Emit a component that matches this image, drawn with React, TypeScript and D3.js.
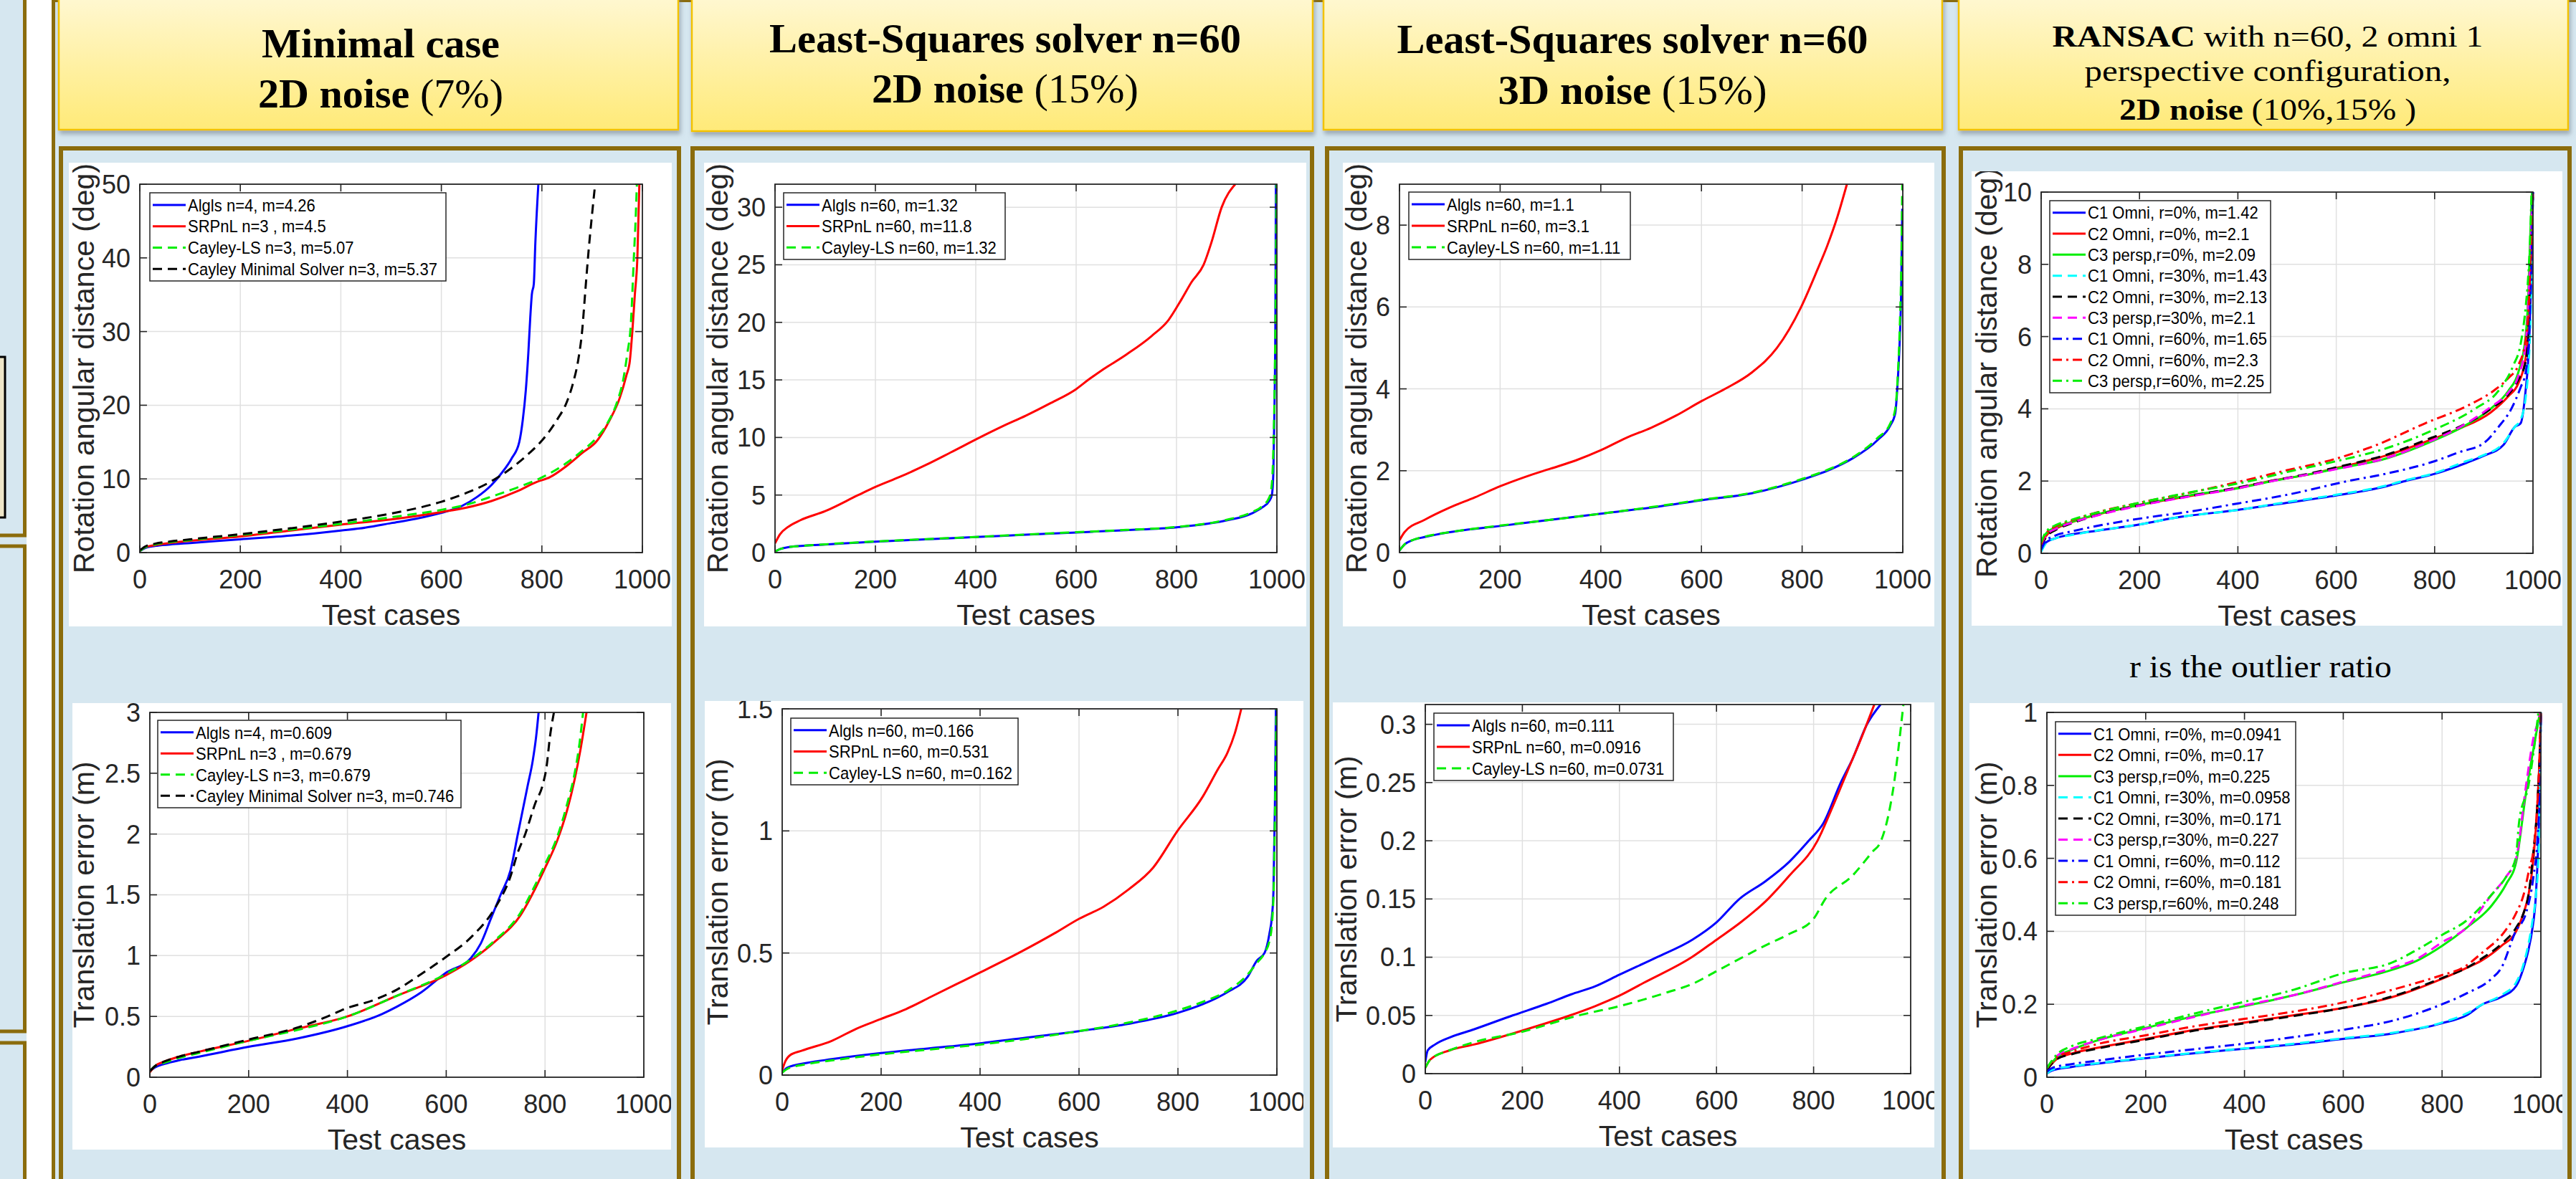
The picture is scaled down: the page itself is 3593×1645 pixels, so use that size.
import React from 'react';
import * as d3 from 'd3';

type Pt = [number, number];

// ---------------- shared axis values ----------------
const xTicks = [0, 200, 400, 600, 800, 1000];
const xTickLabels = ['0', '200', '400', '600', '800', '1000'];

const yTicksC1Rot = [0, 10, 20, 30, 40, 50];
const yLabelsC1Rot = ['0', '10', '20', '30', '40', '50'];
const yTicksC1Tr = [0, 0.5, 1, 1.5, 2, 2.5, 3];
const yLabelsC1Tr = ['0', '0.5', '1', '1.5', '2', '2.5', '3'];
const yTicksC2Rot = [0, 5, 10, 15, 20, 25, 30];
const yLabelsC2Rot = ['0', '5', '10', '15', '20', '25', '30'];
const yTicksC2Tr = [0, 0.5, 1, 1.5];
const yLabelsC2Tr = ['0', '0.5', '1', '1.5'];
const yTicksC3Rot = [0, 2, 4, 6, 8];
const yLabelsC3Rot = ['0', '2', '4', '6', '8'];
const yTicksC3Tr = [0, 0.05, 0.1, 0.15, 0.2, 0.25, 0.3];
const yLabelsC3Tr = ['0', '0.05', '0.1', '0.15', '0.2', '0.25', '0.3'];
const yTicksC4Rot = [0, 2, 4, 6, 8, 10];
const yLabelsC4Rot = ['0', '2', '4', '6', '8', '10'];
const yTicksC4Tr = [0, 0.2, 0.4, 0.6, 0.8, 1];
const yLabelsC4Tr = ['0', '0.2', '0.4', '0.6', '0.8', '1'];

// ---------------- legend labels ----------------
const legC1Rot = ['Algls n=4, m=4.26', 'SRPnL n=3 , m=4.5', 'Cayley-LS n=3, m=5.07', 'Cayley Minimal Solver n=3, m=5.37'];
const legC1Tr = ['Algls n=4, m=0.609', 'SRPnL n=3 , m=0.679', 'Cayley-LS n=3, m=0.679', 'Cayley Minimal Solver n=3, m=0.746'];
const legC2Rot = ['Algls n=60, m=1.32', 'SRPnL n=60, m=11.8', 'Cayley-LS n=60, m=1.32'];
const legC2Tr = ['Algls n=60, m=0.166', 'SRPnL n=60, m=0.531', 'Cayley-LS n=60, m=0.162'];
const legC3Rot = ['Algls n=60, m=1.1', 'SRPnL n=60, m=3.1', 'Cayley-LS n=60, m=1.11'];
const legC3Tr = ['Algls n=60, m=0.111', 'SRPnL n=60, m=0.0916', 'Cayley-LS n=60, m=0.0731'];
const legC4Rot = ['C1 Omni, r=0%, m=1.42', 'C2 Omni, r=0%, m=2.1', 'C3 persp,r=0%, m=2.09', 'C1 Omni, r=30%, m=1.43', 'C2 Omni, r=30%, m=2.13', 'C3 persp,r=30%, m=2.1', 'C1 Omni, r=60%, m=1.65', 'C2 Omni, r=60%, m=2.3', 'C3 persp,r=60%, m=2.25'];
const legC4Tr = ['C1 Omni, r=0%, m=0.0941', 'C2 Omni, r=0%, m=0.17', 'C3 persp,r=0%, m=0.225', 'C1 Omni, r=30%, m=0.0958', 'C2 Omni, r=30%, m=0.171', 'C3 persp,r=30%, m=0.227', 'C1 Omni, r=60%, m=0.112', 'C2 Omni, r=60%, m=0.181', 'C3 persp,r=60%, m=0.248'];

// ---------------- Column 1 : minimal case ----------------
const c1RotAlgls: Pt[] = [[0,0.2],[10,0.6],[30,0.9],[60,1.1],[100,1.3],[200,1.8],[300,2.3],[400,3.0],[450,3.4],[500,4.0],[550,4.6],[600,5.4],[640,6.3],[670,7.5],[700,9.2],[720,10.8],[740,12.8],[755,15],[762,18],[768,22],[773,27],[777,32],[780,35],[784,36.5],[787,42],[793,50]];
const c1RotSRPnL: Pt[] = [[0,0.2],[10,0.7],[30,1.0],[60,1.3],[100,1.6],[200,2.2],[300,3.0],[400,3.8],[500,4.5],[600,5.5],[650,6.1],[700,7.0],[750,8.3],[790,9.6],[815,10.2],[850,11.8],[880,13.5],[910,15.2],[935,18],[955,21],[968,24],[975,26],[980,30],[985,35],[990,40],[994,50]];
const c1RotCayleyLS: Pt[] = [[0,0.2],[10,0.7],[30,1.1],[60,1.4],[100,1.7],[200,2.4],[300,3.1],[400,3.9],[500,4.8],[600,5.8],[650,6.5],[700,7.6],[750,8.8],[800,10.2],[850,12.2],[880,13.8],[905,15.3],[930,17.5],[950,20.5],[962,23.5],[970,27],[977,31],[983,40],[987,46],[989,50]];
const c1RotCayleyMin: Pt[] = [[0,0.3],[10,0.8],[30,1.2],[60,1.5],[100,1.8],[200,2.5],[300,3.3],[400,4.2],[500,5.3],[600,6.9],[650,8.1],[700,9.7],[740,11.5],[775,13.5],[800,15.2],[830,18],[850,20.5],[862,23],[872,26],[880,30],[887,36],[893,41],[900,46],[906,50]];

const c1TrAlgls: Pt[] = [[0,0.05],[10,0.08],[30,0.11],[60,0.14],[100,0.17],[200,0.25],[300,0.32],[400,0.42],[470,0.52],[500,0.58],[550,0.7],[600,0.86],[650,0.98],[670,1.1],[690,1.3],[710,1.5],[730,1.7],[745,2.0],[755,2.2],[765,2.4],[775,2.6],[782,2.8],[787,3.0]];
const c1TrSRPnL: Pt[] = [[0,0.04],[10,0.09],[30,0.13],[60,0.17],[100,0.21],[200,0.3],[300,0.4],[400,0.5],[500,0.67],[600,0.84],[650,0.96],[700,1.12],[750,1.33],[780,1.55],[800,1.72],[825,1.95],[845,2.2],[860,2.45],[872,2.7],[884,3.0]];
const c1TrCayleyLS: Pt[] = [[0,0.05],[10,0.09],[30,0.12],[60,0.16],[100,0.2],[200,0.3],[300,0.39],[400,0.5],[500,0.67],[600,0.85],[650,0.97],[700,1.13],[750,1.35],[780,1.58],[800,1.75],[825,1.98],[845,2.25],[860,2.5],[870,2.75],[877,3.0]];
const c1TrCayleyMin: Pt[] = [[0,0.05],[10,0.09],[30,0.13],[60,0.17],[100,0.21],[200,0.31],[300,0.41],[360,0.5],[400,0.57],[450,0.63],[500,0.72],[550,0.85],[600,0.99],[650,1.15],[700,1.4],[730,1.65],[745,1.85],[760,2.0],[780,2.25],[795,2.4],[803,2.55],[810,2.8],[818,3.0]];

// ---------------- Column 2 : LS n=60, 2D noise ----------------
const c2RotAlgls: Pt[] = [[0,0.1],[10,0.3],[30,0.5],[60,0.6],[100,0.7],[200,0.95],[300,1.15],[400,1.35],[500,1.55],[600,1.75],[700,1.95],[800,2.2],[900,2.8],[950,3.4],[970,3.9],[985,4.5],[990,5.0],[993,7],[995,12],[997,20],[998,32]];
const c2RotSRPnL: Pt[] = [[0,0.8],[10,1.6],[25,2.2],[50,2.8],[100,3.6],[166,5.0],[200,5.7],[250,6.6],[300,7.6],[350,8.7],[408,10],[450,10.9],[500,11.9],[550,13],[600,14.2],[624,15],[650,15.8],[700,17.2],[750,18.8],[784,20.2],[810,22],[830,23.5],[854,25],[870,27],[890,30],[917,32]];
const c2RotCayleyLS: Pt[] = [[0,0.1],[10,0.3],[30,0.5],[60,0.6],[100,0.72],[200,0.97],[300,1.17],[400,1.36],[500,1.57],[600,1.77],[700,1.97],[800,2.22],[900,2.85],[950,3.5],[970,4.0],[985,4.8],[990,6],[993,9],[996,16],[998,25],[999,32]];

const c2TrAlgls: Pt[] = [[0,0.01],[10,0.03],[50,0.05],[100,0.065],[200,0.09],[300,0.11],[400,0.13],[500,0.155],[600,0.18],[700,0.21],[800,0.255],[850,0.29],[900,0.34],[940,0.4],[960,0.47],[975,0.5],[985,0.58],[990,0.65],[993,0.75],[996,1.1],[998,1.5]];
const c2TrSRPnL: Pt[] = [[0,0.02],[5,0.05],[15,0.08],[40,0.1],[100,0.14],[150,0.19],[200,0.23],[250,0.27],[300,0.32],[350,0.37],[400,0.42],[478,0.5],[550,0.58],[600,0.64],[650,0.69],[700,0.76],[750,0.85],[799,1.0],[850,1.14],[880,1.25],[900,1.32],[915,1.4],[928,1.5]];
const c2TrCayleyLS: Pt[] = [[0,0.01],[10,0.025],[50,0.045],[100,0.06],[200,0.085],[300,0.105],[400,0.125],[500,0.15],[600,0.18],[700,0.215],[800,0.265],[850,0.3],[900,0.345],[940,0.41],[960,0.46],[975,0.5],[985,0.55],[990,0.62],[994,0.8],[997,1.2],[999,1.5]];

// ---------------- Column 3 : LS n=60, 3D noise ----------------
const c3RotAlgls: Pt[] = [[0,0.05],[10,0.2],[25,0.3],[50,0.38],[100,0.5],[200,0.65],[300,0.8],[400,0.95],[500,1.1],[600,1.28],[700,1.45],[800,1.78],[850,2.0],[900,2.3],[950,2.75],[975,3.1],[985,3.4],[990,4.2],[994,5.2],[997,6.5],[999,8.4]];
const c3RotSRPnL: Pt[] = [[0,0.3],[10,0.5],[50,0.8],[100,1.1],[150,1.35],[200,1.62],[250,1.85],[300,2.05],[350,2.25],[400,2.5],[450,2.8],[500,3.05],[550,3.35],[600,3.7],[647,4.0],[700,4.4],[750,5.0],[798,6.0],[830,6.9],[850,7.5],[870,8.2],[889,9]];
const c3RotCayleyLS: Pt[] = [[0,0.05],[10,0.2],[25,0.3],[50,0.39],[100,0.5],[200,0.66],[300,0.8],[400,0.95],[500,1.11],[600,1.29],[700,1.46],[800,1.8],[850,2.02],[900,2.32],[950,2.8],[975,3.15],[985,3.5],[990,4.3],[994,5.5],[997,7],[999,9]];

const c3TrAlgls: Pt[] = [[0,0.01],[5,0.02],[20,0.025],[50,0.031],[100,0.038],[180,0.05],[250,0.06],[300,0.068],[350,0.075],[400,0.085],[477,0.1],[550,0.115],[600,0.13],[647,0.15],[700,0.165],[750,0.182],[790,0.2],[820,0.215],[856,0.25],[880,0.27],[910,0.3],[938,0.317]];
const c3TrSRPnL: Pt[] = [[0,0.005],[10,0.012],[50,0.02],[100,0.025],[200,0.037],[298,0.05],[350,0.058],[400,0.067],[450,0.078],[549,0.1],[600,0.115],[650,0.13],[706,0.15],[750,0.17],[808,0.2],[840,0.23],[870,0.26],[900,0.29],[925,0.317]];
const c3TrCayleyLS: Pt[] = [[0,0.005],[10,0.012],[50,0.02],[100,0.027],[200,0.036],[316,0.05],[400,0.058],[500,0.07],[550,0.077],[600,0.088],[654,0.1],[700,0.11],[750,0.12],[800,0.133],[824,0.15],[880,0.17],[920,0.19],[939,0.2],[958,0.23],[966,0.25],[975,0.28],[985,0.317]];

// ---------------- Column 4 : RANSAC ----------------
const c4RotC1r0: Pt[] = [[0,0.05],[10,0.3],[30,0.42],[60,0.52],[100,0.6],[200,0.8],[280,1.0],[400,1.2],[500,1.4],[600,1.6],[700,1.85],[740,2.0],[800,2.2],[864,2.5],[900,2.7],[940,3.0],[963,3.5],[975,3.6],[985,4.5],[990,5.3],[995,7],[1000,10]];
const c4RotC2r0: Pt[] = [[0,0.2],[10,0.48],[30,0.68],[60,0.85],[100,1.02],[200,1.34],[300,1.58],[400,1.81],[466,2.0],[550,2.2],[600,2.36],[700,2.7],[794,3.15],[850,3.45],[914,3.9],[950,4.35],[970,4.7],[985,5.4],[990,6.2],[995,8],[1000,10]];
const c4RotC3r0: Pt[] = [[0,0.25],[10,0.55],[30,0.72],[60,0.86],[100,1.03],[200,1.34],[300,1.6],[400,1.8],[470,2.0],[550,2.2],[600,2.34],[700,2.62],[794,3.1],[850,3.45],[914,4.0],[950,4.5],[970,5.0],[985,6.0],[990,7],[995,9],[998,10]];
const c4RotC1r30: Pt[] = [[0,0.05],[10,0.28],[30,0.42],[60,0.5],[100,0.6],[200,0.8],[280,1.0],[400,1.2],[500,1.42],[600,1.62],[700,1.87],[740,2.02],[800,2.22],[864,2.55],[900,2.72],[940,3.05],[963,3.5],[975,3.7],[985,4.3],[990,5],[995,6.5],[1000,10]];
const c4RotC2r30: Pt[] = [[0,0.2],[10,0.45],[30,0.65],[60,0.82],[100,1.0],[200,1.33],[300,1.58],[400,1.82],[466,2.0],[550,2.22],[600,2.38],[700,2.72],[794,3.2],[850,3.5],[914,4.0],[950,4.4],[970,4.8],[985,5.3],[990,6],[995,8],[1000,10]];
const c4RotC3r30: Pt[] = [[0,0.25],[10,0.5],[30,0.68],[60,0.84],[100,1.0],[200,1.32],[300,1.57],[400,1.8],[470,2.0],[550,2.2],[600,2.33],[700,2.63],[794,3.12],[850,3.48],[914,4.05],[950,4.45],[970,4.9],[985,5.8],[990,6.8],[995,8.5],[999,10]];
const c4RotC1r60: Pt[] = [[0,0.1],[10,0.35],[30,0.5],[60,0.6],[100,0.72],[220,1.0],[300,1.15],[400,1.38],[500,1.62],[624,2.0],[700,2.2],[800,2.55],[850,2.8],[900,3.05],[930,3.5],[956,4.0],[975,4.6],[985,5.0],[992,6],[997,8],[1000,10]];
const c4RotC2r60: Pt[] = [[0,0.25],[10,0.55],[30,0.75],[60,0.9],[100,1.08],[200,1.4],[300,1.67],[408,2.0],[500,2.3],[600,2.62],[682,3.0],[781,3.6],[869,4.1],[920,4.5],[950,4.85],[970,5.2],[985,5.9],[992,7],[997,9],[1000,10]];
const c4RotC3r60: Pt[] = [[0,0.3],[10,0.6],[30,0.78],[60,0.92],[100,1.08],[200,1.4],[300,1.68],[424,2.0],[500,2.25],[600,2.55],[700,2.9],[795,3.4],[882,4.0],[930,4.5],[960,5.2],[975,5.8],[985,6.8],[990,7.6],[995,9],[997,10]];

const c4TrC1r0: Pt[] = [[0,0.01],[10,0.018],[50,0.028],[100,0.037],[200,0.052],[300,0.066],[400,0.078],[500,0.09],[600,0.105],[700,0.12],[800,0.148],[850,0.17],[882,0.2],[920,0.22],[950,0.25],[965,0.3],[975,0.35],[982,0.4],[990,0.5],[995,0.65],[998,0.8],[1000,1.0]];
const c4TrC2r0: Pt[] = [[0,0.02],[20,0.05],[50,0.065],[100,0.08],[200,0.105],[300,0.13],[400,0.15],[500,0.17],[600,0.19],[700,0.22],[800,0.27],[850,0.3],[880,0.32],[920,0.36],[950,0.4],[965,0.45],[975,0.5],[985,0.6],[993,0.75],[998,0.9],[1000,1.0]];
const c4TrC3r0: Pt[] = [[0,0.02],[20,0.055],[50,0.075],[100,0.1],[200,0.135],[300,0.168],[400,0.195],[500,0.225],[600,0.26],[700,0.295],[750,0.32],[800,0.36],[850,0.41],[900,0.47],[930,0.53],[950,0.59],[970,0.78],[985,0.9],[993,0.96],[998,1.0]];
const c4TrC1r30: Pt[] = [[0,0.01],[10,0.02],[50,0.03],[100,0.038],[200,0.053],[300,0.067],[400,0.079],[500,0.092],[600,0.107],[700,0.122],[800,0.15],[850,0.175],[882,0.2],[920,0.225],[950,0.26],[965,0.31],[982,0.42],[990,0.5],[995,0.6],[998,0.8],[1000,1.0]];
const c4TrC2r30: Pt[] = [[0,0.02],[20,0.05],[50,0.063],[100,0.078],[200,0.103],[300,0.128],[400,0.148],[500,0.168],[600,0.19],[700,0.222],[800,0.272],[850,0.3],[880,0.325],[920,0.365],[950,0.41],[965,0.45],[975,0.5],[985,0.62],[993,0.75],[998,0.9],[1000,1.0]];
const c4TrC3r30: Pt[] = [[0,0.025],[20,0.058],[50,0.077],[100,0.1],[200,0.133],[300,0.166],[400,0.197],[500,0.225],[600,0.262],[700,0.3],[750,0.325],[800,0.37],[850,0.41],[900,0.5],[930,0.55],[950,0.6],[970,0.8],[985,0.93],[993,0.97],[998,1.0]];
const c4TrC1r60: Pt[] = [[0,0.015],[10,0.025],[50,0.036],[100,0.045],[200,0.062],[300,0.077],[400,0.092],[500,0.11],[600,0.13],[700,0.155],[800,0.2],[850,0.23],[900,0.27],[920,0.3],[949,0.4],[970,0.45],[985,0.55],[993,0.65],[998,0.8],[1000,1.0]];
const c4TrC2r60: Pt[] = [[0,0.025],[20,0.055],[50,0.07],[100,0.09],[200,0.115],[300,0.14],[400,0.16],[500,0.18],[600,0.205],[700,0.24],[800,0.28],[842,0.3],[880,0.34],[927,0.4],[950,0.45],[965,0.5],[978,0.58],[985,0.62],[993,0.75],[998,0.9],[1000,1.0]];
const c4TrC3r60: Pt[] = [[0,0.025],[20,0.062],[50,0.085],[100,0.105],[200,0.14],[300,0.175],[400,0.207],[500,0.24],[600,0.285],[700,0.315],[750,0.35],[800,0.39],[850,0.43],[900,0.5],[930,0.55],[949,0.6],[956,0.7],[975,0.8],[988,0.92],[995,1.0]];

// ---------------- styles ----------------
const BLUE = '#0000ff', RED = '#ff0000', GREEN = '#00ee00', BLACK = '#000000', CYAN = '#00ffff', MAGENTA = '#ff00ff';
const SOLID = '', DASH = '13,8', DASHDOT = '13,6,3,6';
const BG = '#d6e7f0';
const GOLD = '#8b6c0c';
const AX = '#262626';
const SANS = '"Liberation Sans", Arial, Helvetica, sans-serif';
const SERIF = '"Liberation Serif", "Times New Roman", serif';

interface Series { data: Pt[]; label: string; color: string; dash: string }
interface Panel {
  id: string;
  fig: { x: number; y: number; w: number; h: number };
  axes: { l: number; t: number; r: number; b: number };
  yMax: number;
  yTicks: number[];
  yLabels: string[];
  yTitle: string;
  yTitleOff: number;
  legend: { dx: number; dy: number; w: number; h: number };
  series: Series[];
}

const four = (d: Pt[][], labels: string[]): Series[] => [
  { data: d[0], label: labels[0], color: BLUE, dash: SOLID },
  { data: d[1], label: labels[1], color: RED, dash: SOLID },
  { data: d[2], label: labels[2], color: GREEN, dash: DASH },
  ...(d[3] ? [{ data: d[3], label: labels[3], color: BLACK, dash: DASH }] : []),
];

const nine = (d: Pt[][], labels: string[]): Series[] => {
  const cols = [BLUE, RED, GREEN, CYAN, BLACK, MAGENTA, BLUE, RED, GREEN];
  const dashes = [SOLID, SOLID, SOLID, DASH, DASH, DASH, DASHDOT, DASHDOT, DASHDOT];
  return d.map((dd, i) => ({ data: dd, label: labels[i], color: cols[i], dash: dashes[i] }));
};

const ROT = 'Rotation angular distance (deg)';
const TR = 'Translation error (m)';

const panels: Panel[] = [
  { id: 'p1a', fig: { x: 96, y: 227, w: 841, h: 647 }, axes: { l: 195, t: 257, r: 896, b: 771 }, yMax: 50, yTicks: yTicksC1Rot, yLabels: yLabelsC1Rot, yTitle: ROT, yTitleOff: 64, legend: { dx: 14, dy: 12, w: 413, h: 123 }, series: four([c1RotAlgls, c1RotSRPnL, c1RotCayleyLS, c1RotCayleyMin], legC1Rot) },
  { id: 'p1b', fig: { x: 101, y: 981, w: 835, h: 623 }, axes: { l: 209, t: 994, r: 898, b: 1503 }, yMax: 3, yTicks: yTicksC1Tr, yLabels: yLabelsC1Tr, yTitle: TR, yTitleOff: 78, legend: { dx: 11, dy: 11, w: 423, h: 122 }, series: four([c1TrAlgls, c1TrSRPnL, c1TrCayleyLS, c1TrCayleyMin], legC1Tr) },
  { id: 'p2a', fig: { x: 982, y: 227, w: 840, h: 647 }, axes: { l: 1081, t: 257, r: 1781, b: 771 }, yMax: 32, yTicks: yTicksC2Rot, yLabels: yLabelsC2Rot, yTitle: ROT, yTitleOff: 66, legend: { dx: 12, dy: 12, w: 309, h: 93 }, series: four([c2RotAlgls, c2RotSRPnL, c2RotCayleyLS], legC2Rot) },
  { id: 'p2b', fig: { x: 983, y: 978, w: 835, h: 623 }, axes: { l: 1091, t: 989, r: 1781, b: 1500 }, yMax: 1.5, yTicks: yTicksC2Tr, yLabels: yLabelsC2Tr, yTitle: TR, yTitleOff: 76, legend: { dx: 12, dy: 13, w: 317, h: 93 }, series: four([c2TrAlgls, c2TrSRPnL, c2TrCayleyLS], legC2Tr) },
  { id: 'p3a', fig: { x: 1873, y: 227, w: 825, h: 647 }, axes: { l: 1952, t: 257, r: 2654, b: 771 }, yMax: 9, yTicks: yTicksC3Rot, yLabels: yLabelsC3Rot, yTitle: ROT, yTitleOff: 46, legend: { dx: 13, dy: 11, w: 309, h: 94 }, series: four([c3RotAlgls, c3RotSRPnL, c3RotCayleyLS], legC3Rot) },
  { id: 'p3b', fig: { x: 1859, y: 980, w: 839, h: 621 }, axes: { l: 1988, t: 983, r: 2665, b: 1498 }, yMax: 0.317, yTicks: yTicksC3Tr, yLabels: yLabelsC3Tr, yTitle: TR, yTitleOff: 96, legend: { dx: 12, dy: 12, w: 334, h: 94 }, series: four([c3TrAlgls, c3TrSRPnL, c3TrCayleyLS], legC3Tr) },
  { id: 'p4a', fig: { x: 2750, y: 239, w: 824, h: 634 }, axes: { l: 2847, t: 268, r: 3533, b: 772 }, yMax: 10, yTicks: yTicksC4Rot, yLabels: yLabelsC4Rot, yTitle: ROT, yTitleOff: 62, legend: { dx: 12, dy: 12, w: 308, h: 268 }, series: nine([c4RotC1r0, c4RotC2r0, c4RotC3r0, c4RotC1r30, c4RotC2r30, c4RotC3r30, c4RotC1r60, c4RotC2r60, c4RotC3r60], legC4Rot) },
  { id: 'p4b', fig: { x: 2747, y: 981, w: 827, h: 623 }, axes: { l: 2855, t: 994, r: 3544, b: 1503 }, yMax: 1, yTicks: yTicksC4Tr, yLabels: yLabelsC4Tr, yTitle: TR, yTitleOff: 70, legend: { dx: 12, dy: 13, w: 335, h: 270 }, series: nine([c4TrC1r0, c4TrC2r0, c4TrC3r0, c4TrC1r30, c4TrC2r30, c4TrC3r30, c4TrC1r60, c4TrC2r60, c4TrC3r60], legC4Tr) },
];

function PlotPanel({ p }: { p: Panel }) {
  const { l, t, r, b } = p.axes;
  const x = d3.scaleLinear().domain([0, 1000]).range([l, r]);
  const y = d3.scaleLinear().domain([0, p.yMax]).range([b, t]);
  const line = d3.line<Pt>().x((d) => x(d[0])).y((d) => y(d[1])).curve(d3.curveMonotoneX);
  const tl = 10;
  const lx = l + p.legend.dx, ly = t + p.legend.dy;
  const pitch = (p.legend.h - 4) / p.series.length;
  return (
    <g>
      <defs>
        <clipPath id={`fig-${p.id}`}><rect x={p.fig.x} y={p.fig.y} width={p.fig.w} height={p.fig.h} /></clipPath>
        <clipPath id={`ax-${p.id}`}><rect x={l} y={t - 1} width={r - l + 2} height={b - t + 2} /></clipPath>
      </defs>
      <rect x={p.fig.x} y={p.fig.y} width={p.fig.w} height={p.fig.h} fill="#ffffff" />
      {xTicks.map((v) => (
        <line key={`gx${v}`} x1={x(v)} x2={x(v)} y1={t} y2={b} stroke="#e0e0e0" strokeWidth={1.5} />
      ))}
      {p.yTicks.map((v) => (
        <line key={`gy${v}`} x1={l} x2={r} y1={y(v)} y2={y(v)} stroke="#e0e0e0" strokeWidth={1.5} />
      ))}
      <g clipPath={`url(#ax-${p.id})`}>
        {p.series.map((s, i) => (
          <path key={i} d={line(s.data) || ''} fill="none" stroke={s.color} strokeWidth={3} strokeDasharray={s.dash || undefined} strokeLinejoin="round" />
        ))}
      </g>
      <rect x={l} y={t} width={r - l} height={b - t} fill="none" stroke={AX} strokeWidth={1.8} />
      {xTicks.map((v) => (
        <g key={`tx${v}`}>
          <line x1={x(v)} x2={x(v)} y1={b} y2={b - tl} stroke={AX} strokeWidth={1.6} />
          <line x1={x(v)} x2={x(v)} y1={t} y2={t + tl} stroke={AX} strokeWidth={1.6} />
        </g>
      ))}
      {p.yTicks.map((v) => (
        <g key={`ty${v}`}>
          <line x1={l} x2={l + tl} y1={y(v)} y2={y(v)} stroke={AX} strokeWidth={1.6} />
          <line x1={r} x2={r - tl} y1={y(v)} y2={y(v)} stroke={AX} strokeWidth={1.6} />
        </g>
      ))}
      <g clipPath={`url(#fig-${p.id})`} fontFamily={SANS} fill={AX}>
        {xTicks.map((v, i) => (
          <text key={`lx${v}`} x={x(v)} y={b + 50} fontSize={36} textAnchor="middle">{xTickLabels[i]}</text>
        ))}
        {p.yTicks.map((v, i) => (
          <text key={`ly${v}`} x={l - 13} y={y(v)} dy="0.36em" fontSize={36} textAnchor="end">{p.yLabels[i]}</text>
        ))}
        <text x={(l + r) / 2} y={b + 101} fontSize={41} textAnchor="middle">Test cases</text>
        <text transform={`translate(${l - p.yTitleOff},${(t + b) / 2}) rotate(-90)`} fontSize={41} textAnchor="middle">{p.yTitle}</text>
      </g>
      <rect x={lx} y={ly} width={p.legend.w} height={p.legend.h} fill="#ffffff" stroke={AX} strokeWidth={1.5} />
      {p.series.map((s, i) => {
        const cy = ly + 2 + pitch * (i + 0.5);
        return (
          <g key={`lg${i}`}>
            <line x1={lx + 4} x2={lx + 50} y1={cy} y2={cy} stroke={s.color} strokeWidth={3} strokeDasharray={s.dash || undefined} />
            <text transform={`translate(${lx + 53},${cy}) scale(0.9,1)`} dy="0.36em" fontSize={24.5} fontFamily={SANS} fill="#000">{s.label}</text>
          </g>
        );
      })}
    </g>
  );
}

interface HeaderLine { parts: [string, boolean][]; y: number; len: number; size: number }
interface Header { x: number; w: number; h: number; cx: number; lines: HeaderLine[] }

const headers: Header[] = [
  { x: 82, w: 864, h: 181, cx: 531, lines: [
    { parts: [['Minimal case', true]], y: 80, len: 332, size: 57 },
    { parts: [['2D noise', true], [' (7%)', false]], y: 150, len: 342, size: 57 },
  ] },
  { x: 965, w: 866, h: 183, cx: 1402, lines: [
    { parts: [['Least-Squares solver n=60', true]], y: 73, len: 658, size: 57 },
    { parts: [['2D noise', true], [' (15%)', false]], y: 143, len: 372, size: 57 },
  ] },
  { x: 1846, w: 863, h: 181, cx: 2277, lines: [
    { parts: [['Least-Squares solver n=60', true]], y: 74, len: 657, size: 57 },
    { parts: [['3D noise', true], [' (15%)', false]], y: 145, len: 375, size: 57 },
  ] },
  { x: 2732, w: 850, h: 181, cx: 3163, lines: [
    { parts: [['RANSAC', true], [' with n=60, 2 omni 1', false]], y: 65, len: 601, size: 42 },
    { parts: [['perspective configuration,', false]], y: 113, len: 511, size: 42 },
    { parts: [['2D noise', true], [' (10%,15% )', false]], y: 167, len: 414, size: 42 },
  ] },
];

const plotBoxes = [
  { x: 85, w: 862 },
  { x: 966, w: 864 },
  { x: 1851, w: 860 },
  { x: 2735, w: 849 },
];

export default function App() {
  return (
    <svg width={3593} height={1645} viewBox="0 0 3593 1645" style={{ position: 'absolute', left: 0, top: 0, display: 'block' }}>
      <defs>
        <linearGradient id="hdrGrad" x1="0" y1="0" x2="0" y2="1">
          <stop offset="0%" stopColor="#fff8d4" />
          <stop offset="100%" stopColor="#ffea78" />
        </linearGradient>
        <filter id="shadow" x="-5%" y="-5%" width="110%" height="130%">
          <feDropShadow dx="2" dy="5" stdDeviation="3" floodColor="#6a7480" floodOpacity="0.55" />
        </filter>
      </defs>
      <rect x={0} y={0} width={3593} height={1645} fill={BG} />

      <rect x={37} y={0} width={35} height={1645} fill="#ffffff" />
      <path d="M0,747 H34.5 V-10" fill="none" stroke={GOLD} strokeWidth={5} />
      <path d="M0,762 H34.5 V1439 H0" fill="none" stroke={GOLD} strokeWidth={5} />
      <path d="M0,1455 H34.5 V1700" fill="none" stroke={GOLD} strokeWidth={5} />
      <rect x={-10} y={498} width={17} height={224} fill="#efe6c8" stroke="#000" strokeWidth={3} />
      <rect x={72} y={0} width={5} height={1645} fill={GOLD} />
      <rect x={72} y={0} width={3521} height={3} fill={GOLD} />

      {plotBoxes.map((bx, i) => (
        <rect key={`bx${i}`} x={bx.x} y={207} width={bx.w} height={1600} fill="none" stroke={GOLD} strokeWidth={6} />
      ))}

      {headers.map((h, i) => (
        <g key={`h${i}`}>
          <rect x={h.x} y={-10} width={h.w} height={h.h + 10} fill="url(#hdrGrad)" stroke="#f2c200" strokeWidth={2.5} filter="url(#shadow)" />
          {h.lines.map((ln, j) => (
            <text key={j} x={h.cx} y={ln.y} textAnchor="middle" fontFamily={SERIF} fontSize={ln.size} fill="#000" textLength={ln.len} lengthAdjust="spacingAndGlyphs">
              {ln.parts.map(([txt, bold], k) => (
                <tspan key={k} fontWeight={bold ? 'bold' : 'normal'}>{txt}</tspan>
              ))}
            </text>
          ))}
        </g>
      ))}

      <text x={3153} y={945} textAnchor="middle" fontFamily={SERIF} fontSize={44} fill="#000" textLength={366} lengthAdjust="spacingAndGlyphs">r is the outlier ratio</text>

      {panels.map((p) => (
        <PlotPanel key={p.id} p={p} />
      ))}
    </svg>
  );
}
